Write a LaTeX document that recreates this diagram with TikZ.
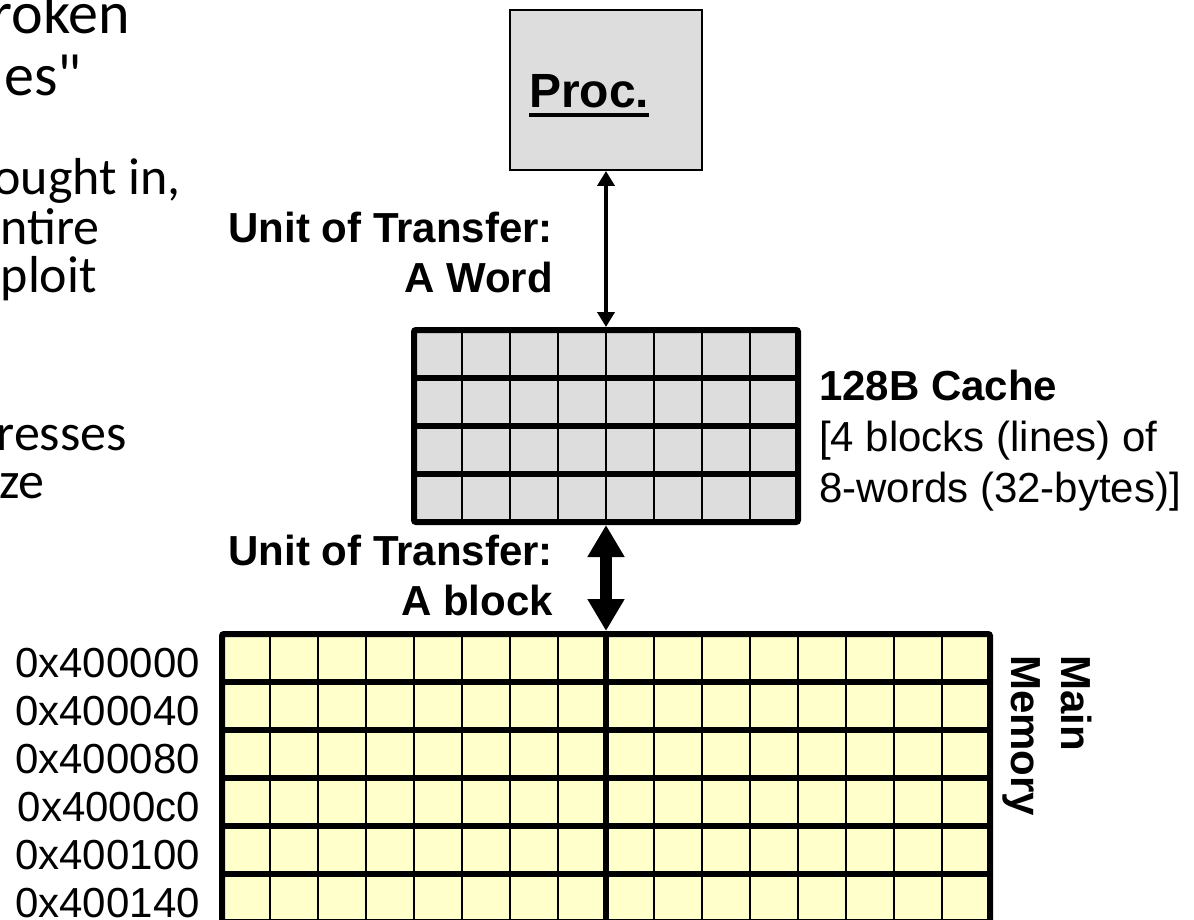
\documentclass[tikz,border=0pt]{standalone}
\usepackage{fontspec}
\setmainfont{Liberation Sans}
\newfontfamily\slidefont{Carlito}
\usetikzlibrary{arrows.meta}

\definecolor{procgrey}{HTML}{DDDDDD}
\definecolor{cachegrey}{HTML}{DDDDDD}
\definecolor{memyellow}{HTML}{FFFFCC}

\begin{document}
\begin{tikzpicture}[x=1pt, y=-1pt,
  procbox/.style={draw=black, line width=2pt, fill=procgrey, minimum width=192pt, minimum height=160pt},
  cachebox/.style={draw=black, line width=6pt, rounded corners=2pt, fill=cachegrey, minimum width=384pt, minimum height=192pt},
  membox/.style={draw=black, line width=6pt, rounded corners=2pt, fill=memyellow, minimum width=768pt, minimum height=288pt},
  cellline/.style={line width=2.5pt},
  rowline/.style={line width=6pt},
  wordarrow/.style={line width=4pt, {Triangle[length=15pt,width=17pt]}-{Triangle[length=15pt,width=17pt]}},
  blockarrow/.style={line width=12pt, {Triangle[length=32pt,width=35pt]}-{Triangle[length=32pt,width=35pt]}},
  unitlabel/.style={inner sep=0pt, anchor=north east, align=right, font={\fontsize{42}{50}\selectfont\bfseries}},
  cachetext/.style={inner sep=0pt, anchor=north west, align=left, font={\fontsize{42}{51}\selectfont}},
  memtext/.style={inner sep=0pt, anchor=north west, align=left, rotate=-90, font={\fontsize{42}{50}\selectfont\bfseries}},
  addr/.style={inner sep=0pt, anchor=base east, font={\fontsize{42}{50}\selectfont}},
  slideA/.style={inner sep=0pt, anchor=base east, font={\slidefont\fontsize{60}{72}\selectfont}},
  slideB/.style={inner sep=0pt, anchor=base east, font={\slidefont\fontsize{52}{62}\selectfont}}]

  \useasboundingbox (0,0) rectangle (1194,920);
  \clip (0,0) rectangle (1194,920);

  % bullet text running off the left side
  \node[slideA] (t1) at (130,34) {roken};
  \node[slideA] (t2) at (82,96) {es"};
  \node[slideB] (t3) at (181,195) {ought in,};
  \node[slideB] (t4) at (100,244) {ntire};
  \node[slideB] (t5) at (97,292) {ploit};
  \node[slideB] (t6) at (127,450) {resses};
  \node[slideB] (t7) at (45,498) {ze};

  % processor
  \node[procbox] (proc) at (606,90) {};
  \node[inner sep=0pt, anchor=base west, font={\fontsize{48}{56}\selectfont\bfseries}] (pname) at (529,108) {Proc.};
  \draw[line width=4pt] ([yshift=-7pt]pname.base west) -- ([yshift=-7pt]pname.base east);

  % cache: 4 lines of 8 words
  \node[cachebox] (cache) at (606,426) {};
  \foreach \x in {462,510,...,750}
    \draw[cellline] (\x,330) -- (\x,522);
  \foreach \y in {378,426,474}
    \draw[rowline] (414,\y) -- (798,\y);

  % main memory: 6 rows of 16 words
  \node[membox] (mem) at (606,778) {};
  \foreach \x in {270,318,...,942}
    \draw[cellline] (\x,634) -- (\x,922);
  \draw[rowline] (606,634) -- (606,922);
  \foreach \y in {682,730,...,874}
    \draw[rowline] (222,\y) -- (990,\y);

  \path (proc) edge[wordarrow] (cache);
  \path (cache) edge[blockarrow] (mem);

  \node[unitlabel] (uword) at (553,212) {Unit of Transfer:\\A Word};
  \node[unitlabel] (ublock) at (553,535) {Unit of Transfer:\\A block};
  \node[cachetext] (csize) at (819,370) {{\bfseries 128B Cache}\\{}[4 blocks (lines) of\\8-words (32-bytes)]};
  \node[memtext] (mname) at (1092,655) {Main\\Memory};

  \node[addr] (a0) at (200,677) {0x400000};
  \node[addr] (a1) at (200,725) {0x400040};
  \node[addr] (a2) at (200,773) {0x400080};
  \node[addr] (a3) at (200,821) {0x4000c0};
  \node[addr] (a4) at (200,869) {0x400100};
  \node[addr] (a5) at (200,917) {0x400140};

\end{tikzpicture}
\end{document}
